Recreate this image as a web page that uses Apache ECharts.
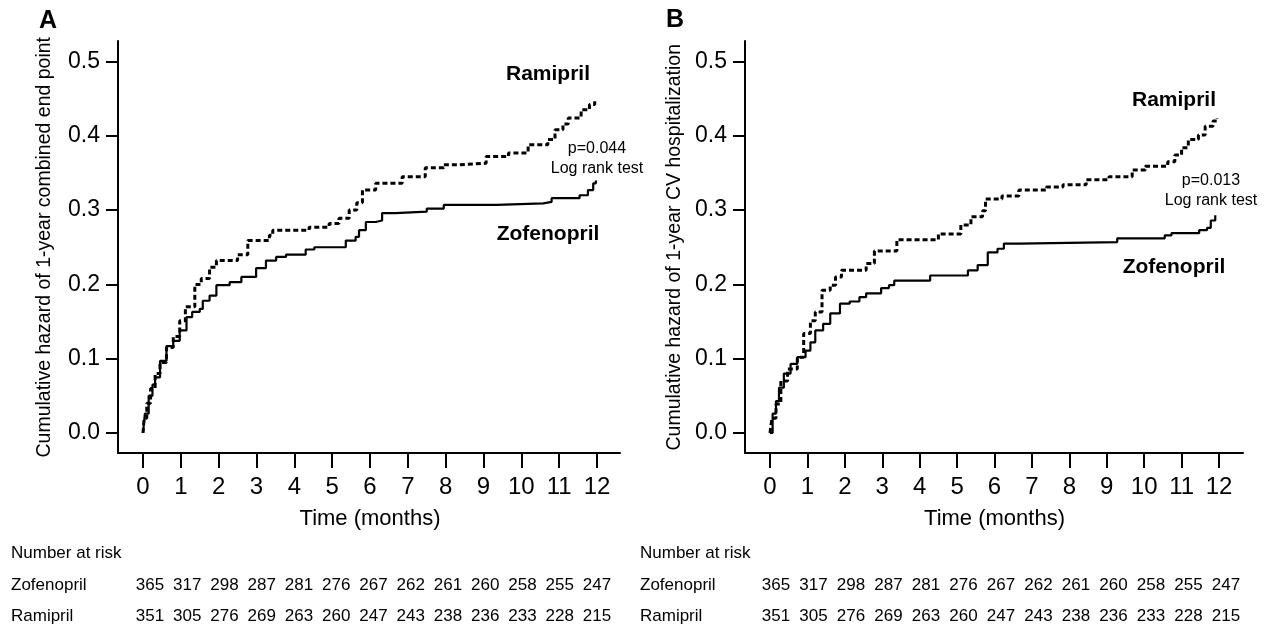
<!DOCTYPE html>
<html>
<head>
<meta charset="utf-8">
<title>Cumulative hazard – Zofenopril vs Ramipril</title>
<script src="https://cdn.jsdelivr.net/npm/echarts@6/dist/echarts.min.js"></script>
<style>
  html, body { margin: 0; padding: 0; background: #fff; }
  #chart { width: 1268px; height: 628px; }
</style>
</head>
<body>
<div id="chart"></div>
<script>
// ---- Data -------------------------------------------------------------
// Kaplan–Meier style cumulative hazard, [month, hazard] at each step.
const monthTicks = [0, 1, 2, 3, 4, 5, 6, 7, 8, 9, 10, 11, 12];
const hazardTicks = [0.0, 0.1, 0.2, 0.3, 0.4, 0.5];

// Panel A: 1-year combined end point
const combinedRamipril = [
  [0, 0], [0.03, 0.02], [0.1, 0.04], [0.2, 0.06], [0.32, 0.08], [0.45, 0.095],
  [0.62, 0.115], [0.8, 0.13], [0.97, 0.151], [1.12, 0.17], [1.37, 0.2],
  [1.54, 0.208], [1.76, 0.223], [1.94, 0.232], [2.5, 0.24], [2.77, 0.259],
  [3.34, 0.266], [3.43, 0.273], [4.39, 0.277], [4.92, 0.282], [5.18, 0.289],
  [5.45, 0.3], [5.65, 0.31], [5.8, 0.327], [6.15, 0.336], [6.85, 0.345],
  [7.46, 0.357], [7.95, 0.361], [8.3, 0.363], [9.07, 0.372], [9.66, 0.377],
  [10.18, 0.388], [10.7, 0.395], [10.89, 0.408], [11.1, 0.416], [11.24, 0.424],
  [11.58, 0.435], [11.8, 0.442], [11.94, 0.449]
];
const combinedZofenopril = [
  [0, 0], [0.05, 0.026], [0.15, 0.05], [0.25, 0.065], [0.32, 0.075], [0.45, 0.097],
  [0.62, 0.117], [0.8, 0.124], [0.97, 0.138], [1.15, 0.156], [1.3, 0.163],
  [1.5, 0.167], [1.58, 0.178], [1.76, 0.185], [1.94, 0.199], [2.29, 0.203],
  [2.6, 0.21], [2.99, 0.222], [3.25, 0.232], [3.52, 0.237], [3.78, 0.24],
  [4.3, 0.247], [4.53, 0.25], [5.36, 0.259], [5.62, 0.264], [5.71, 0.273],
  [5.89, 0.284], [6.15, 0.286], [6.32, 0.296], [6.67, 0.298], [7.5, 0.302],
  [7.95, 0.307], [9.35, 0.309], [10.58, 0.311], [10.8, 0.316], [11.54, 0.32],
  [11.76, 0.327], [11.9, 0.336], [11.97, 0.34]
];

// Panel B: 1-year CV hospitalization
const cvRamipril = [
  [0, 0], [0.05, 0.02], [0.16, 0.039], [0.29, 0.07], [0.47, 0.086], [0.73, 0.102],
  [0.9, 0.134], [1.08, 0.151], [1.21, 0.163], [1.39, 0.192], [1.61, 0.199],
  [1.75, 0.21], [1.91, 0.219], [2.57, 0.228], [2.79, 0.245], [3.39, 0.26],
  [4.5, 0.268], [5.1, 0.28], [5.37, 0.291], [5.68, 0.299], [5.76, 0.315],
  [6.2, 0.319], [6.65, 0.327], [7.39, 0.331], [7.83, 0.334], [8.45, 0.341],
  [9.06, 0.345], [9.68, 0.354], [10.03, 0.359], [10.63, 0.365], [10.82, 0.374],
  [11.0, 0.384], [11.18, 0.395], [11.45, 0.401], [11.63, 0.413], [11.84, 0.42],
  [11.95, 0.424]
];
const cvZofenopril = [
  [0, 0], [0.07, 0.026], [0.16, 0.043], [0.24, 0.061], [0.37, 0.08], [0.55, 0.093],
  [0.73, 0.102], [0.95, 0.111], [1.08, 0.122], [1.21, 0.138], [1.42, 0.147],
  [1.61, 0.161], [1.87, 0.174], [2.13, 0.177], [2.39, 0.183], [2.57, 0.188],
  [2.97, 0.195], [3.18, 0.199], [3.32, 0.205], [4.28, 0.212], [5.29, 0.219],
  [5.55, 0.226], [5.82, 0.243], [6.08, 0.248], [6.25, 0.255], [6.66, 0.257],
  [9.28, 0.262], [10.55, 0.266], [10.73, 0.269], [11.47, 0.273], [11.68, 0.276],
  [11.78, 0.286], [11.9, 0.293]
];

// Number at risk, one entry per month 0..12 (same for both panels)
const riskZofenopril = [365, 317, 298, 287, 281, 276, 267, 262, 261, 260, 258, 255, 247];
const riskRamipril = [351, 305, 276, 269, 263, 260, 247, 243, 238, 236, 233, 228, 215];

const pValues = ['p=0.044', 'p=0.013'];
const yTitles = [
  'Cumulative hazard of 1-year combined end point',
  'Cumulative hazard of 1-year CV hospitalization'
];

// ---- Layout ------------------------------------------------------------
const FONT = "'Liberation Sans', Arial, Helvetica, sans-serif";
const INK = '#000';
const CLEAR = 'rgba(0,0,0,0)';

const panels = [
  {
    letter: 'A', axisLeft: 118, axisRight: 620, t0: 143, t12: 597,
    riskLeft: 150, riskRight: 597, rowLabelX: 11,
    letterPos: [48, 21], titleX: 45,
    ramLabel: [548, 74], zofLabel: [548, 234], pPos: [597, 149],
    ramipril: combinedRamipril, zofenopril: combinedZofenopril,
    pText: pValues[0], yTitle: yTitles[0]
  },
  {
    letter: 'B', axisLeft: 745, axisRight: 1243, t0: 770, t12: 1219,
    riskLeft: 776, riskRight: 1226, rowLabelX: 640,
    letterPos: [675, 20], titleX: 675,
    ramLabel: [1174, 100], zofLabel: [1174, 267], pPos: [1211, 181],
    ramipril: cvRamipril, zofenopril: cvZofenopril,
    pText: pValues[1], yTitle: yTitles[1]
  }
];

const AXIS_TOP = 41, AXIS_BOTTOM = 453;
const Y_TOP = 61.5, Y_ZERO = 433;
const ROW_ZOF = 585, ROW_RAM = 616, ROW_HEAD = 553;

const grid = [], xAxis = [], yAxis = [], series = [], graphic = [];

const hiddenAxis = (gridIndex, min, max) => ({
  gridIndex, type: 'value', min, max, show: false
});

panels.forEach((p) => {
  const gFrame = grid.length;
  // frame: the two L-shaped axis lines
  grid.push({
    left: p.axisLeft, top: AXIS_TOP,
    width: p.axisRight - p.axisLeft, height: AXIS_BOTTOM - AXIS_TOP,
    outerBoundsMode: 'none'
  });
  const frameAxis = {
    gridIndex: gFrame, type: 'value', min: 0, max: 1,
    axisLine: { show: true, onZero: false, lineStyle: { color: INK, width: 2 } },
    axisTick: { show: false }, axisLabel: { show: false }, splitLine: { show: false }
  };
  xAxis.push(Object.assign({}, frameAxis));
  yAxis.push(Object.assign({}, frameAxis));

  // plotting area with scales for time and cumulative hazard;
  // its own axis lines are invisible, ticks hang off the frame lines
  const gData = grid.length;
  grid.push({
    left: p.t0, top: Y_TOP, width: p.t12 - p.t0, height: Y_ZERO - Y_TOP,
    outerBoundsMode: 'none'
  });
  xAxis.push({
    gridIndex: gData, type: 'value', position: 'bottom',
    min: monthTicks[0], max: monthTicks[monthTicks.length - 1], interval: 1,
    offset: AXIS_BOTTOM - Y_ZERO,
    axisLine: { show: true, onZero: false, lineStyle: { color: CLEAR, width: 0 } },
    axisTick: { show: true, inside: false, length: 15, lineStyle: { color: INK, width: 2 } },
    axisLabel: { fontSize: 24, margin: 22, color: INK, fontFamily: FONT },
    splitLine: { show: false },
    name: 'Time (months)', nameLocation: 'middle', nameGap: 55,
    nameTextStyle: { fontSize: 22, color: INK, fontFamily: FONT }
  });
  yAxis.push({
    gridIndex: gData, type: 'value', position: 'left',
    min: hazardTicks[0], max: hazardTicks[hazardTicks.length - 1], interval: 0.1,
    offset: p.t0 - p.axisLeft,
    axisLine: { show: true, onZero: false, lineStyle: { color: CLEAR, width: 0 } },
    axisTick: { show: true, inside: false, length: 12, lineStyle: { color: INK, width: 2 } },
    axisLabel: {
      fontSize: 23, margin: 18, color: INK, fontFamily: FONT,
      formatter: v => v.toFixed(1)
    },
    splitLine: { show: false }
  });
  const xi = xAxis.length - 1, yi = yAxis.length - 1;

  series.push({
    name: 'Ramipril', type: 'line', step: 'end', xAxisIndex: xi, yAxisIndex: yi,
    data: p.ramipril, showSymbol: false, symbol: 'none', silent: true,
    lineStyle: { color: INK, width: 3, type: [5, 3] }, z: 3
  });
  series.push({
    name: 'Zofenopril', type: 'line', step: 'end', xAxisIndex: xi, yAxisIndex: yi,
    data: p.zofenopril, showSymbol: false, symbol: 'none', silent: true,
    lineStyle: { color: INK, width: 2.2, type: 'solid' }, z: 4
  });

  // number-at-risk table, columns follow the monthly scale
  const gRisk = grid.length;
  grid.push({
    left: p.riskLeft, top: ROW_ZOF, width: p.riskRight - p.riskLeft,
    height: ROW_RAM - ROW_ZOF, outerBoundsMode: 'none'
  });
  xAxis.push(hiddenAxis(gRisk, 0, 12));
  yAxis.push(hiddenAxis(gRisk, 0, 1));
  const rxi = xAxis.length - 1, ryi = yAxis.length - 1;
  const riskLabel = {
    show: true, position: 'top', distance: 0, verticalAlign: 'middle', align: 'center',
    color: INK, opacity: 1, fontSize: 17, fontFamily: FONT,
    formatter: d => String(d.value[2])
  };
  series.push({
    name: 'At risk Zofenopril', type: 'scatter', xAxisIndex: rxi, yAxisIndex: ryi,
    data: riskZofenopril.map((n, k) => [monthTicks[k], 1, n]),
    symbolSize: 0.01, itemStyle: { color: INK, opacity: 1 }, label: riskLabel, silent: true
  });
  series.push({
    name: 'At risk Ramipril', type: 'scatter', xAxisIndex: rxi, yAxisIndex: ryi,
    data: riskRamipril.map((n, k) => [monthTicks[k], 0, n]),
    symbolSize: 0.01, itemStyle: { color: INK, opacity: 1 }, label: riskLabel, silent: true
  });

  // text annotations
  const txt = (x, y, text, size, weight, align, extra) => Object.assign({
    type: 'text', x, y,
    style: {
      text, fontSize: size, fontWeight: weight || 'normal', fontFamily: FONT,
      fill: INK, align: align || 'center', verticalAlign: 'middle'
    }
  }, extra || {});

  graphic.push(txt(p.letterPos[0], p.letterPos[1], p.letter, 25, 'bold'));
  graphic.push(txt(p.titleX, (Y_TOP + Y_ZERO) / 2, p.yTitle, 19.5, 'normal', 'center',
    { rotation: Math.PI / 2 }));
  graphic.push(txt(p.ramLabel[0], p.ramLabel[1], 'Ramipril', 21, 'bold'));
  graphic.push(txt(p.zofLabel[0], p.zofLabel[1], 'Zofenopril', 21, 'bold'));
  graphic.push(txt(p.pPos[0], p.pPos[1], p.pText, 16));
  graphic.push(txt(p.pPos[0], p.pPos[1] + 20, 'Log rank test', 16));
  graphic.push(txt(p.rowLabelX, ROW_HEAD, 'Number at risk', 17, 'normal', 'left'));
  graphic.push(txt(p.rowLabelX, ROW_ZOF, 'Zofenopril', 17, 'normal', 'left'));
  graphic.push(txt(p.rowLabelX, ROW_RAM, 'Ramipril', 17, 'normal', 'left'));
});

const chart = echarts.init(document.getElementById('chart'), null, { renderer: 'canvas' });
chart.setOption({
  backgroundColor: '#fff',
  animation: false,
  textStyle: { fontFamily: FONT, color: INK },
  grid, xAxis, yAxis, series, graphic
});
</script>
</body>
</html>
